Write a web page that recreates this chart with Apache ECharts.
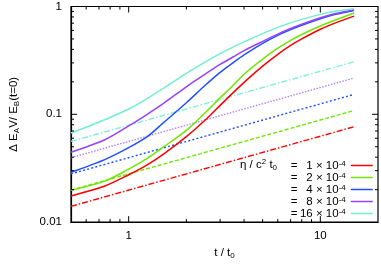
<!DOCTYPE html>
<html>
<head>
<meta charset="utf-8">
<script src="https://cdn.jsdelivr.net/npm/echarts@6/dist/echarts.min.js"></script>
<style>html,body{margin:0;padding:0;background:#fff;}#c{width:381px;height:265px;}</style>
</head>
<body>
<div id="c"></div>
<script>
// time samples (t / t0) for the solid curves
const tVals = [0.5, 0.75, 1, 1.25, 1.5, 2, 2.5, 3, 3.5, 4, 5, 6, 7, 8, 10, 12, 15];
const eta1  = [0.0175, 0.0216, 0.0275, 0.034, 0.042, 0.062, 0.088, 0.121, 0.158, 0.198, 0.28, 0.36, 0.435, 0.50, 0.615, 0.705, 0.814];
const eta2  = [0.0197, 0.024, 0.031, 0.039, 0.049, 0.071, 0.103, 0.142, 0.185, 0.235, 0.325, 0.41, 0.485, 0.55, 0.66, 0.75, 0.87];
const eta4  = [0.029, 0.038, 0.049, 0.062, 0.082, 0.128, 0.185, 0.245, 0.30, 0.355, 0.455, 0.54, 0.61, 0.67, 0.77, 0.845, 0.92];
const eta8  = [0.0445, 0.058, 0.078, 0.10, 0.124, 0.18, 0.235, 0.29, 0.34, 0.39, 0.475, 0.555, 0.625, 0.685, 0.785, 0.86, 0.935];
const eta16 = [0.067, 0.089, 0.112, 0.14, 0.172, 0.24, 0.305, 0.365, 0.42, 0.47, 0.56, 0.64, 0.705, 0.76, 0.845, 0.905, 0.955];
// straight reference lines (end points)
const refT = [0.5, 15];
const ref1  = [0.0140, 0.0767];
const ref2  = [0.0198, 0.1084];
const ref4  = [0.028, 0.153];
const ref8  = [0.0396, 0.217];
const ref16 = [0.056, 0.307];
// legend labels
const etaLabels = ['1', '2', '4', '8', '16'];
// tick values
const xMajor = [1, 10];
const xMinor = [0.6, 0.7, 0.8, 0.9, 2, 3, 4, 5, 6, 7, 8, 9];
const yMajor = [0.1];
const yMinor = [0.02, 0.03, 0.04, 0.05, 0.06, 0.07, 0.08, 0.09, 0.2, 0.3, 0.4, 0.5, 0.6, 0.7, 0.8, 0.9];

const X_MIN = 0.5, X_MAX = 20, Y_MIN = 0.01, Y_MAX = 1;
const FONT = 'Liberation Sans';
const colors = ['#ff0000', '#6ee800', '#2050ff', '#9a40ff', '#70f0d0'];
const refColors = ['#ff0000', '#6ee800', '#2050ff', '#b880ff', '#80f0d8'];
const refDash = [[6, 2, 1.5, 2], [4, 2], [2, 2.2], [1.5, 1.5], [6, 2, 1.5, 2]];
const solids = [eta1, eta2, eta4, eta8, eta16];
const refs = [ref1, ref2, ref4, ref8, ref16];

const zip = (xs, ys) => xs.map((x, i) => [x, ys[i]]);

const series = [];
refs.forEach((r, i) => {
  series.push({
    name: 'ref' + i, type: 'line', data: zip(refT, r), symbol: 'none',
    lineStyle: { color: refColors[i], width: 1.4, type: refDash[i] }, z: 2, silent: true
  });
});
solids.forEach((s, i) => {
  series.push({
    name: etaLabels[i], type: 'line', data: zip(tVals, s), symbol: 'none', smooth: 0.3,
    color: colors[i],
    lineStyle: { color: colors[i], width: 1.5 }, z: 3
  });
});

function tickItem(isX) {
  return function (params, api) {
    const v0 = api.value(0), v1 = api.value(1), len = api.value(2);
    let a, b, shapes;
    if (isX) {
      a = api.coord([v0, Y_MIN]); b = api.coord([v0, Y_MAX]);
      shapes = [[a[0], a[1], a[0], a[1] - len], [b[0], b[1], b[0], b[1] + len]];
    } else {
      a = api.coord([X_MIN, v1]); b = api.coord([X_MAX, v1]);
      shapes = [[a[0], a[1], a[0] + len, a[1]], [b[0], b[1], b[0] - len, b[1]]];
    }
    return {
      type: 'group',
      children: shapes.map(s => ({
        type: 'line', shape: { x1: s[0], y1: s[1], x2: s[2], y2: s[3] },
        style: { stroke: '#000', lineWidth: 1 }
      }))
    };
  };
}
const xTickData = xMajor.map(v => [v, Y_MIN, 6]).concat(xMinor.map(v => [v, Y_MIN, 3]));
const yTickData = yMajor.map(v => [X_MIN, v, 6]).concat(yMinor.map(v => [X_MIN, v, 3]));
series.push({ type: 'custom', name: 'xt', renderItem: tickItem(true), data: xTickData, silent: true, z: 5, clip: false });
series.push({ type: 'custom', name: 'yt', renderItem: tickItem(false), data: yTickData, silent: true, z: 5, clip: false });

const isPow10 = v => Math.abs(Math.log10(v) - Math.round(Math.log10(v))) < 1e-6;

const chart = echarts.init(document.getElementById('c'), null, { renderer: 'canvas' });
chart.setOption({
  animation: false,
  backgroundColor: '#fff',
  textStyle: { fontFamily: FONT },
  grid: { left: 64.7, right: 1.3, top: 6.5, bottom: 42, show: true, borderColor: '#000', borderWidth: 1.2, containLabel: false },
  xAxis: {
    type: 'log', logBase: 10, min: X_MIN, max: X_MAX,
    axisLine: { show: true, lineStyle: { color: '#000', width: 1.2 } },
    axisTick: { show: false }, splitLine: { show: false }, minorTick: { show: false },
    axisLabel: {
      color: '#000', fontSize: 11.5, fontFamily: FONT, margin: 8,
      showMinLabel: true, showMaxLabel: true,
      formatter: v => (isPow10(v) && v >= 0.99 && v <= 10.1) ? String(Math.round(v)) : ''
    },
    name: '{a|t / t}{s|0}', nameLocation: 'middle', nameGap: 23,
    nameTextStyle: {
      rich: {
        a: { fontSize: 11.5, fontFamily: FONT, color: '#000', lineHeight: 14 },
        s: { fontSize: 8, fontFamily: FONT, color: '#000', verticalAlign: 'bottom', lineHeight: 14 }
      }
    }
  },
  yAxis: {
    type: 'log', logBase: 10, min: Y_MIN, max: Y_MAX,
    axisLine: { show: true, lineStyle: { color: '#000', width: 1.2 } },
    axisTick: { show: false }, splitLine: { show: false }, minorTick: { show: false },
    axisLabel: {
      color: '#000', fontSize: 11.5, fontFamily: FONT, margin: 9,
      formatter: v => isPow10(v) ? (v >= 0.999 ? '1' : (v > 0.05 ? '0.1' : '0.01')) : ''
    },
    name: '{a|Δ E}{s|A}{a|V/ E}{s|B}{a|(t=0)}', nameLocation: 'middle', nameGap: 50, nameRotate: 90,
    nameTextStyle: {
      rich: {
        a: { fontSize: 11.5, fontFamily: FONT, color: '#000', lineHeight: 14 },
        s: { fontSize: 8, fontFamily: FONT, color: '#000', verticalAlign: 'bottom', lineHeight: 14 }
      }
    }
  },
  title: {
    text: '{a|η / c}{p|2}{a| t}{s|0}',
    left: 240, top: 158, padding: 0,
    textStyle: {
      fontWeight: 'normal',
      rich: {
        a: { fontSize: 11.5, fontFamily: FONT, fontWeight: 'normal', color: '#000', lineHeight: 14 },
        p: { fontSize: 8, fontFamily: FONT, fontWeight: 'normal', color: '#000', verticalAlign: 'top', lineHeight: 14 },
        s: { fontSize: 8, fontFamily: FONT, fontWeight: 'normal', color: '#000', verticalAlign: 'bottom', lineHeight: 14 }
      }
    }
  },
  legend: {
    data: etaLabels, orient: 'vertical', right: 7.5, top: 159.5, padding: 0,
    align: 'right', itemWidth: 22, itemHeight: 12, itemGap: 0, selectedMode: false,
    itemStyle: { opacity: 0 },
    lineStyle: { width: 1.5 },
    formatter: n => '{e|=}{n|' + n + '}{t| × 10}{p|-4}',
    textStyle: {
      padding: [0, 0, 0, 0],
      rich: {
        e: { fontSize: 11.5, fontFamily: FONT, color: '#000', lineHeight: 12, width: 8, align: 'left' },
        n: { fontSize: 11.5, fontFamily: FONT, color: '#000', lineHeight: 12, width: 14, align: 'right' },
        t: { fontSize: 11.5, fontFamily: FONT, color: '#000', lineHeight: 12 },
        p: { fontSize: 8, fontFamily: FONT, color: '#000', lineHeight: 12, verticalAlign: 'top' }
      }
    }
  },
  series: series
});
</script>
</body>
</html>
